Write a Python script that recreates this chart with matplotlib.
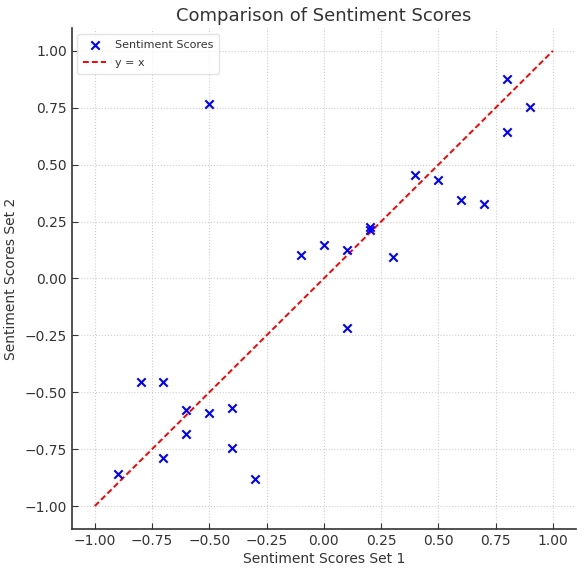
import numpy as np
import matplotlib
matplotlib.use("Agg")
import matplotlib.pyplot as plt

# sentiment scores
scores_set1 = [-0.5, 0.8, 0.9, 0.8, 0.4, 0.5, 0.6, 0.7, -0.1, 0.0, 0.1, 0.2, 0.2,
               0.3, 0.1, -0.8, -0.7, -0.6, -0.5, -0.4, -0.6, -0.4, -0.7, -0.9, -0.3]
scores_set2 = [0.767, 0.877, 0.754, 0.645, 0.456, 0.434, 0.346, 0.329, 0.105, 0.145,
               0.127, 0.228, 0.215, 0.096, -0.219, -0.455, -0.456, -0.579, -0.589,
               -0.570, -0.683, -0.746, -0.788, -0.860, -0.880]
diag = [-1, 1]
ticks = [-1.0, -0.75, -0.5, -0.25, 0.0, 0.25, 0.5, 0.75, 1.0]

text_col = "#333333"

fig = plt.figure(figsize=(5.84, 5.73), dpi=100)
ax = fig.add_axes([0.123, 0.077, 0.863, 0.874])

ax.scatter(scores_set1, scores_set2, marker="x", color="blue", s=36,
           linewidths=1.5, label="Sentiment Scores", zorder=3)
ax.plot(diag, diag, color="red", linestyle="--", linewidth=1.4,
        dashes=(3, 1.6), label="y = x", zorder=2)

ax.set_xticks(ticks)
ax.set_yticks(ticks)
ax.set_xlim(-1.1, 1.1)
ax.set_ylim(-1.1, 1.1)

ax.grid(True, linestyle=":", color="#cfcfcf", linewidth=0.8)
ax.set_axisbelow(True)
for side in ["top", "right"]:
    ax.spines[side].set_visible(False)
for side in ["left", "bottom"]:
    ax.spines[side].set_color(text_col)
    ax.spines[side].set_linewidth(1.2)
ax.tick_params(colors=text_col, labelsize=10, length=4, direction="in")

ax.set_title("Comparison of Sentiment Scores", fontsize=13, color=text_col, pad=5)
ax.set_xlabel("Sentiment Scores Set 1", fontsize=10, color=text_col, labelpad=3)
ax.set_ylabel("Sentiment Scores Set 2", fontsize=10, color=text_col, labelpad=5)

leg = ax.legend(loc="upper left", fontsize=8, frameon=True, labelcolor=text_col,
                labelspacing=0.75, borderpad=0.55)
leg.get_frame().set_edgecolor("#dddddd")

fig.savefig("out.png", dpi=100)
